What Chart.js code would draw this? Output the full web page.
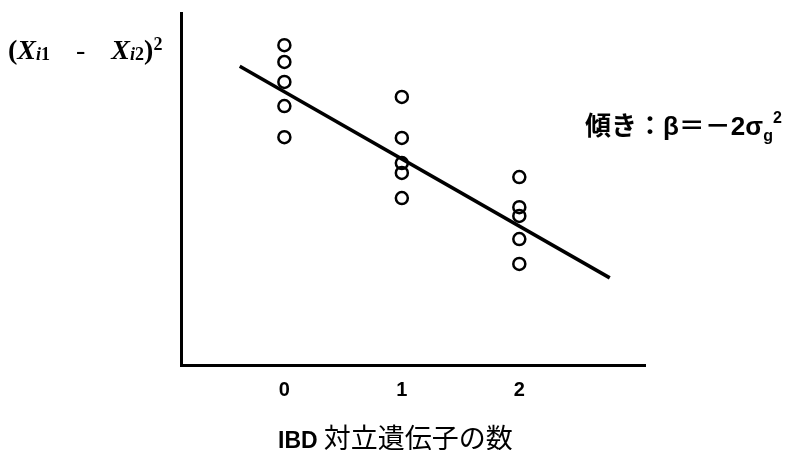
<!DOCTYPE html>
<html>
<head>
<meta charset="utf-8">
<script src="https://cdn.jsdelivr.net/npm/chart.js@4.4.1/dist/chart.umd.min.js"></script>
<style>
  html, body { margin: 0; padding: 0; background: #fff; }
  #wrap { position: relative; width: 790px; height: 450px; overflow: hidden; }
  #c { position: absolute; left: 0; top: 0; }
  .lbl { position: absolute; white-space: nowrap; color: #000; }
  #ylab { left: 8px; top: 35px; font-family: "Liberation Serif", "DejaVu Serif", serif; font-weight: bold; font-size: 28px; line-height: 30px; }
  #ylab .sub { font-size: 18px; position: relative; top: 1px; }
  #ylab .sup { font-size: 18px; position: relative; top: -9px; }
  #slope { left: 585px; top: 111px; font-family: "Liberation Sans", "Noto Sans CJK JP", sans-serif; font-weight: bold; font-size: 26px; line-height: 30px; }
  #slope .sub { font-size: 16px; position: relative; top: 6px; }
  #slope .sup { font-size: 16px; position: relative; top: -12px; }
  #xtitle { left: 278px; top: 423px; font-size: 27px; line-height: 28px; font-family: "Noto Sans CJK JP", sans-serif; }
  #xtitle b { font-family: "Liberation Sans", sans-serif; font-weight: bold; font-size: 23px; }
</style>
</head>
<body>
<div id="wrap">
  <canvas id="c" width="790" height="450"></canvas>
  <div class="lbl" id="ylab">(<i>X</i><span class="sub"><i>i</i>1</span><span style="display:inline-block;width:26px"></span><span style="font-weight:normal">-</span><span style="display:inline-block;width:26px"></span><i>X</i><span class="sub"><i>i</i>2</span>)<span class="sup">2</span></div>
  <div class="lbl" id="slope">傾き：β＝－2σ<span class="sub">g</span><span class="sup">2</span></div>
  <div class="lbl" id="xtitle"><b>IBD</b> 対立遺伝子の数</div>
</div>
<script>
// ---- data ----
const xTicks = [0, 1, 2];                       // number of IBD alleles
const ibd0 = [9.14, 8.66, 8.09, 7.40, 6.51];    // squared differences, IBD = 0
const ibd1 = [7.66, 6.49, 5.77, 5.49, 4.77];    // IBD = 1
const ibd2 = [5.37, 4.51, 4.26, 3.60, 2.89];    // IBD = 2
const lineX = [-0.38, 2.77];                    // regression line ends (x)
const lineY = [8.54, 2.49];                     // regression line ends (y)

const pts = [];
[ibd0, ibd1, ibd2].forEach((arr, i) => arr.forEach(v => pts.push({ x: xTicks[i], y: v })));
const linePts = lineX.map((x, i) => ({ x: x, y: lineY[i] }));

new Chart(document.getElementById('c'), {
  type: 'scatter',
  data: {
    datasets: [
      {
        type: 'line',
        data: linePts,
        borderColor: '#000',
        borderWidth: 3.5,
        pointRadius: 0,
        fill: false,
        tension: 0,
        order: 2
      },
      {
        data: pts,
        pointRadius: 6,
        pointBorderWidth: 2.5,
        pointBackgroundColor: 'rgba(255,255,255,0)',
        pointBorderColor: '#000',
        order: 1
      }
    ]
  },
  options: {
    responsive: false,
    animation: false,
    events: [],
    layout: { padding: { left: 181, right: 145, top: 13, bottom: 0 } },
    plugins: { legend: { display: false }, tooltip: { enabled: false } },
    scales: {
      x: {
        type: 'linear',
        min: -0.88,
        max: 3.07,
        afterBuildTicks: s => { s.ticks = xTicks.map(v => ({ value: v })); },
        afterFit: s => { s.height = 85; },
        grid: { display: false, drawTicks: false },
        border: { display: true, color: '#000', width: 3 },
        ticks: {
          color: '#000',
          padding: 13,
          font: { family: 'Liberation Sans', weight: 'bold', size: 20 },
          callback: v => String(v)
        }
      },
      y: {
        type: 'linear',
        min: 0,
        max: 10.06,
        afterFit: s => { s.width = 0; },
        grid: { display: false, drawTicks: false },
        border: { display: true, color: '#000', width: 3 },
        ticks: { display: false }
      }
    }
  }
});
</script>
</body>
</html>
